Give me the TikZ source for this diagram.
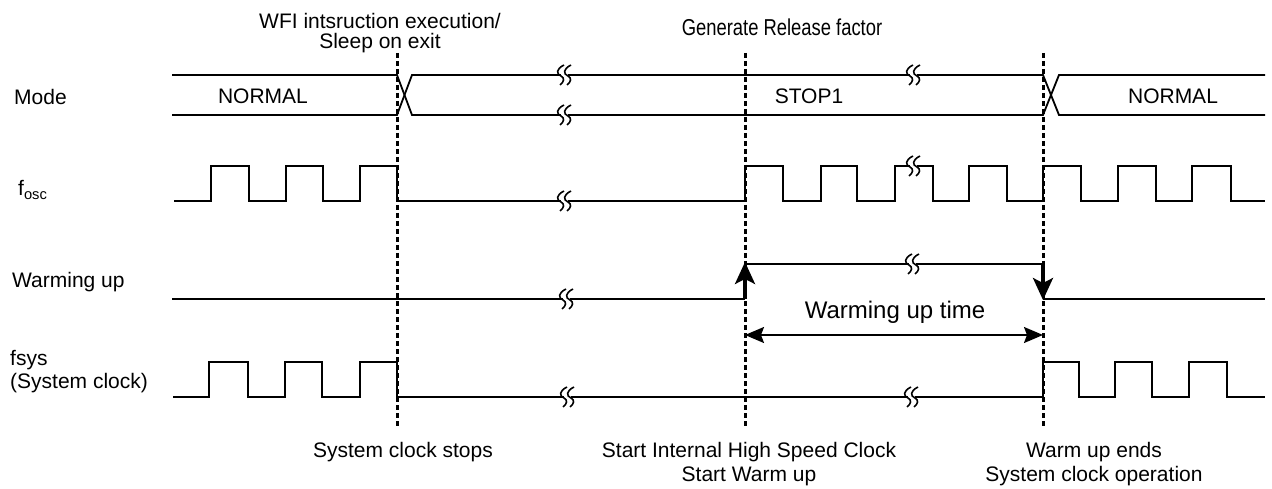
\documentclass[tikz,border=0pt]{standalone}
\usepackage{fontspec}
\setmainfont{Liberation Sans}
\newfontfamily\narrowfont[FakeStretch=0.8]{Liberation Sans}
\usepackage{tikz}
\usetikzlibrary{arrows.meta}

% break symbol on a signal line
\newcommand{\brkmark}[2]{%
  \fill[white] (#1-4,#2-3) rectangle (#1+3,#2+3);
  \draw[line width=1.6pt] (#1-1,#2-10) .. controls (#1-9,#2-6) and (#1-9,#2-1) .. (#1-4,#2+1)
    .. controls (#1,#2+3) and (#1-1,#2+7) .. (#1-5,#2+10);
  \draw[line width=1.6pt] (#1+6,#2-10) .. controls (#1-2,#2-6) and (#1-2,#2-1) .. (#1+3,#2+1)
    .. controls (#1+7,#2+3) and (#1+6,#2+7) .. (#1+2,#2+10);
}

\begin{document}
\begin{tikzpicture}[x=1pt,y=-1pt,
lbl/.style={font=\fontsize{21}{23}\selectfont,inner sep=0pt},
sig/.style={line width=1.8pt},
marker/.style={line width=3pt,dash pattern=on 5pt off 3pt},
edgearrow/.style={line width=3.2pt,-{Stealth[length=22pt,width=20pt,inset=5pt]}},
dim/.style={line width=1.8pt,{Stealth[length=19pt,width=16pt,inset=3pt]}-{Stealth[length=19pt,width=16pt,inset=3pt]}}
]
\useasboundingbox (0,0) rectangle (1272,489);

% SIGNAL NAMES
\node[lbl,anchor=west] (mode) at (14,97) {Mode};
\node[lbl,anchor=west] (fosc) at (18,190) {f\textsubscript{osc}};
\node[lbl,anchor=west] (warm) at (12,282) {Warming up};
\node[lbl,anchor=west,align=left] (fsys) at (10,372) {fsys\\(System clock)};

% MODE
\draw[sig] (172,75) -- (397,75) -- (412,115) -- (1043,115) -- (1059,75) -- (1265,75);
\draw[sig] (172,115) -- (397,115) -- (412,75) -- (1043,75) -- (1059,115) -- (1265,115);
\node[lbl] (normal1) at (263,96) {NORMAL};
\node[lbl] (stop) at (809,96) {STOP1};
\node[lbl] (normal2) at (1173,96) {NORMAL};
\brkmark{565}{75}
\brkmark{565}{115}
\brkmark{914}{75}

% FOSC
\draw[sig] (174,201) -| (211,166) -| (249,201) -| (286,166) -| (323,201) -| (360,166) -| (397,201)
  -| (745,166) -| (783,201) -| (821,166) -| (857,201) -| (895,166) -| (933,201) -| (969,166)
  -| (1007,201) -| (1043,166) -| (1081,201) -| (1118,166) -| (1156,201) -| (1192,166) -| (1231,201) -- (1265,201);
\brkmark{565}{201}
\brkmark{914}{166}

% WARMING UP
\draw[sig] (172,299) -- (745,299);
\draw[sig] (745,264) -- (1043,264);
\draw[sig] (1043,299) -- (1265,299);
\brkmark{567}{299}
\brkmark{913}{264}

% FSYS
\draw[sig] (173,397) -| (209,362) -| (248,397) -| (285,362) -| (322,397) -| (360,362) -| (397,397)
  -| (1043,362) -| (1079,397) -| (1115,362) -| (1152,397) -| (1189,362) -| (1227,397) -- (1265,397);
\brkmark{568}{397}
\brkmark{912}{397}

% EVENT LINES
\coordinate (ev1top) at (397,53);
\coordinate (ev1bot) at (397,428);
\coordinate (ev2top) at (745,53);
\coordinate (ev2bot) at (745,428);
\coordinate (ev3top) at (1043,53);
\coordinate (ev3bot) at (1043,428);
\draw[marker] (ev1top) -- (ev1bot);
\draw[marker] (ev2top) -- (ev2bot);
\draw[marker] (ev3top) -- (ev3bot);

% WARM UP EDGES
\coordinate (wulow1) at (745,299);
\coordinate (wuhigh1) at (745,262);
\coordinate (wuhigh2) at (1043,264);
\coordinate (wulow2) at (1043,300);
\draw[edgearrow] (wulow1) -- (wuhigh1);
\draw[edgearrow] (wuhigh2) -- (wulow2);

% WARMING UP TIME
\coordinate (wuleft) at (745,335);
\coordinate (wuright) at (1043,335);
\draw[dim] (wuleft) -- (wuright);
\node[font=\fontsize{24}{28}\selectfont,inner sep=0pt] (wutime) at (895,312) {Warming up time};

% EVENT TEXTS
\node[lbl,align=center,font=\fontsize{21}{20}\selectfont] (wfi) at (380,33) {WFI intsruction execution/\\Sleep on exit};
\node[lbl,font=\narrowfont\fontsize{23}{25}\selectfont] (release) at (782,27) {Generate Release factor};
\node[lbl] (stops) at (403,452) {System clock stops};
\node[lbl,align=center,font=\fontsize{21}{24}\selectfont] (start) at (749,464) {Start Internal High Speed Clock\\Start Warm up};
\node[lbl,align=center,font=\fontsize{21}{24}\selectfont] (ends) at (1094,464) {Warm up ends\\System clock operation};

\end{tikzpicture}
\end{document}
